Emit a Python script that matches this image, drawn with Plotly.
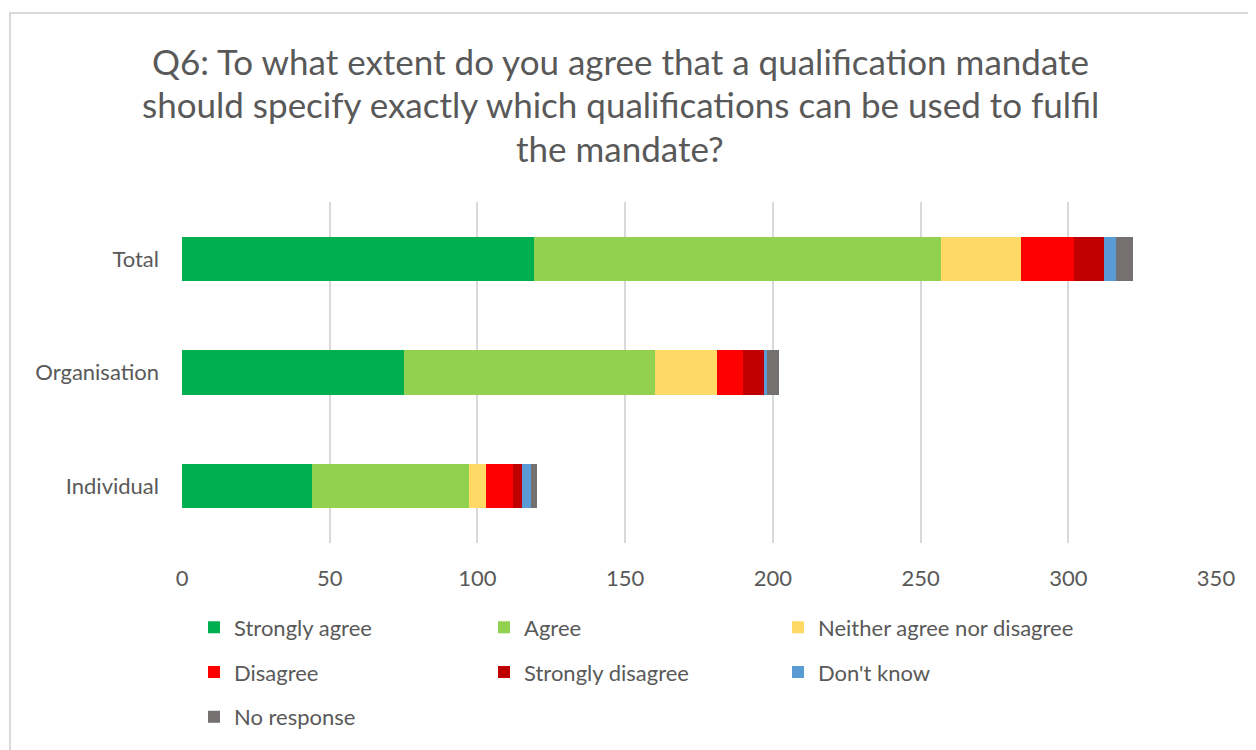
import plotly.graph_objects as go

categories = ["Individual", "Organisation", "Total"]
series_names = ["Strongly agree", "Agree", "Neither agree nor disagree",
                "Disagree", "Strongly disagree", "Don't know", "No response"]
strongly_agree = [44, 75, 119]
agree = [53, 85, 138]
neither = [6, 21, 27]
disagree = [9, 9, 18]
strongly_disagree = [3, 7, 10]
dont_know = [3, 1, 4]
no_response = [2, 4, 6]
series_values = [strongly_agree, agree, neither, disagree, strongly_disagree, dont_know, no_response]
colors = ["#00B050", "#92D050", "#FFD966", "#FF0000", "#C00000", "#5B9BD5", "#767171"]
x_ticks = [0, 50, 100, 150, 200, 250, 300, 350]
title_lines = ["Q6: To what extent do you agree that a qualification mandate",
               "should specify exactly which qualifications can be used to fulfil",
               "the mandate?"]

FONT = "Lato"
GREY = "#595959"
OFF = 8  # page body margin
W, H = 1256 - OFF, 750 - OFF
L, T = 182 - OFF, 202 - OFF
R = W - (1216 - OFF)
B = H - (545 - OFF)
PW, PH = W - L - R, H - T - B


def px_x(px):
    return (px - OFF - L) / PW


def px_y(py):
    return (H - B - (py - OFF)) / PH


# legend grid: 3 columns x 3 rows (screen pixel positions of the legend boxes)
col_left = [194, 484, 778]
row_mid = [630, 675, 720]

fig = go.Figure()
legend_layout = {}
for i, (name, vals, col) in enumerate(zip(series_names, series_values, colors)):
    key = "legend" if i == 0 else f"legend{i + 1}"
    fig.add_trace(go.Bar(y=categories, x=vals, name=name, orientation="h",
                         marker=dict(color=col, line=dict(width=0)), legend=key))
    legend_layout[key] = dict(orientation="h", xanchor="left", yanchor="middle",
                              x=px_x(col_left[i % 3]), y=px_y(row_mid[i // 3]),
                              font=dict(family=FONT, size=22, color=GREY),
                              bgcolor="rgba(0,0,0,0)")

annotations = []
for line, py in zip(title_lines, [60, 103, 148]):
    annotations.append(dict(text=line, x=px_x(620), y=px_y(py), xref="paper", yref="paper",
                            xanchor="center", yanchor="middle", showarrow=False,
                            font=dict(family=FONT, size=35, color=GREY)))

fig.update_layout(
    width=W, height=H,
    margin=dict(l=L, r=R, t=T, b=B),
    barmode="stack", bargap=0.61,
    plot_bgcolor="white", paper_bgcolor="white",
    showlegend=True,
    annotations=annotations,
    xaxis=dict(range=[0, 350], tickvals=x_ticks, showgrid=True, gridcolor="#D9D9D9",
               gridwidth=2, zeroline=False, showline=False,
               tickfont=dict(family=FONT, size=22, color=GREY), ticklabelstandoff=20),
    yaxis=dict(categoryorder="array", categoryarray=categories, showgrid=False,
               zeroline=False, showline=False,
               tickfont=dict(family=FONT, size=22, color=GREY), ticklabelstandoff=22),
    shapes=[dict(type="rect", xref="paper", yref="paper",
                 x0=px_x(10), x1=px_x(1256 + 6), y0=px_y(760), y1=px_y(12),
                 line=dict(color="#D9D9D9", width=2), fillcolor="rgba(0,0,0,0)", layer="below")],
    **legend_layout,
)

fig.write_html("out.html")
